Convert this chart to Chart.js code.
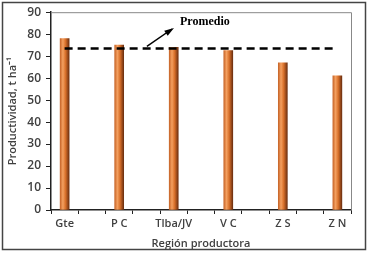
<!DOCTYPE html>
<html>
<head>
<meta charset="utf-8">
<script src="https://cdn.jsdelivr.net/npm/chart.js@4"></script>
<style>
  html, body { margin: 0; padding: 0; background: #fff; }
  #wrap { width: 369px; height: 253px; position: relative; }
</style>
</head>
<body>
<div id="wrap"><canvas id="chart"></canvas></div>
<script>
/* region names and yields */
const regions = ["Gte", "P C", "Tlba/JV", "V C", "Z S", "Z N"];
const yields  = [78, 75, 74, 72.5, 67, 61];
const promedio = 73.5;
const yTicks = [0, 10, 20, 30, 40, 50, 60, 70, 80, 90];

// original chart puts an empty slot between every region
const labels = [];
const barData = [];
regions.forEach((r, i) => {
  if (i > 0) { labels.push(""); barData.push(null); }
  labels.push(r);
  barData.push(yields[i]);
});
const avgData = labels.map(() => promedio);

const textColor = "#404040";
const font = (size) => ({ family: "Open Sans", size, weight: "600" });

function barFill(c) {
  const chart = c.chart;
  const xs = chart.scales && chart.scales.x;
  if (!xs || xs.width === undefined) return "#d2691e";
  const cx = xs.getPixelForValue(c.dataIndex);
  const g = chart.ctx.createLinearGradient(cx - 4.5, 0, cx + 4.5, 0);
  g.addColorStop(0, "#c8662a");
  g.addColorStop(0.3, "#f4a060");
  g.addColorStop(0.6, "#d8702a");
  g.addColorStop(1, "#6e3010");
  return g;
}

const frame = {
  id: "frame",
  afterDraw(chart) {
    const { ctx, chartArea: a, scales } = chart;
    ctx.save();
    // outer border
    ctx.strokeStyle = "#444";
    ctx.lineWidth = 1.5;
    ctx.strokeRect(2.5, 2.5, 363, 247);
    // top and right edges of plot frame
    ctx.strokeStyle = "#888";
    ctx.lineWidth = 1;
    ctx.beginPath();
    ctx.moveTo(a.left, a.top + 0.5);
    ctx.lineTo(a.right + 0.5, a.top + 0.5);
    ctx.lineTo(a.right + 0.5, a.bottom);
    ctx.stroke();
    // Promedio label with arrow
    const yAvg = scales.y.getPixelForValue(promedio);
    const x0 = scales.x.getPixelForValue(1) + 5;
    ctx.fillStyle = "#000";
    ctx.font = "bold 12px 'Liberation Serif'";
    ctx.textBaseline = "middle";
    ctx.fillText("Promedio", 180, 22);
    ctx.strokeStyle = "#000";
    ctx.lineWidth = 1.5;
    const ax = x0 + 50, ay = yAvg - 2, bx = 172, by = 29;
    ctx.beginPath();
    ctx.moveTo(ax, ay);
    ctx.lineTo(bx, by);
    ctx.stroke();
    const ang = Math.atan2(by - ay, bx - ax);
    ctx.beginPath();
    ctx.moveTo(bx + 2, by - 1);
    ctx.lineTo(bx - 8 * Math.cos(ang - 0.4), by - 8 * Math.sin(ang - 0.4));
    ctx.lineTo(bx - 8 * Math.cos(ang + 0.4), by - 8 * Math.sin(ang + 0.4));
    ctx.closePath();
    ctx.fill();
    ctx.restore();
  }
};

new Chart(document.getElementById("chart"), {
  type: "bar",
  data: {
    labels,
    datasets: [
      {
        type: "line",
        data: avgData,
        borderColor: "#000",
        borderWidth: 2.5,
        borderDash: [8, 5],
        pointRadius: 0,
        fill: false,
        order: 0,
      },
      {
        data: barData,
        backgroundColor: barFill,
        barThickness: 9,
        order: 1,
      },
    ],
  },
  options: {
    responsive: true,
    maintainAspectRatio: false,
    animation: false,
    layout: { padding: { left: 0, top: 9, right: 18, bottom: 0 } },
    plugins: { legend: { display: false }, tooltip: { enabled: false } },
    scales: {
      x: {
        afterFit: (s) => { s.height = 43; },
        grid: { drawOnChartArea: false, tickLength: 4, color: "#222", offset: true },
        border: { color: "#222", width: 1.5 },
        ticks: {
          autoSkip: false, maxRotation: 0, padding: 3,
          font: font(11), color: textColor,
        },
        title: {
          display: true, text: "Región productora",
          font: font(11), color: textColor,
          padding: { top: 0, bottom: 3 },
        },
      },
      y: {
        min: 0, max: 90,
        afterFit: (s) => { s.width = 51; },
        afterBuildTicks: (s) => { s.ticks = yTicks.map((v) => ({ value: v })); },
        grid: { drawOnChartArea: false, tickLength: 5, color: "#222" },
        border: { color: "#222", width: 1.5 },
        ticks: {
          padding: 5,
          font: font(12), color: textColor,
        },
        title: {
          display: true, text: "Productividad, t ha⁻¹",
          font: font(11), color: textColor,
          padding: { top: 6, bottom: 0 },
        },
      },
    },
  },
  plugins: [frame],
});
</script>
</body>
</html>
